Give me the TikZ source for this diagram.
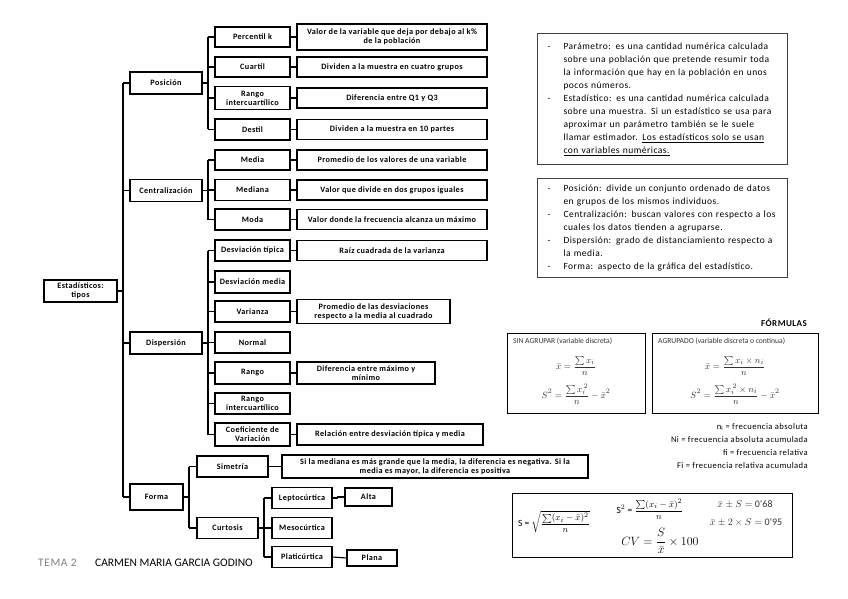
\documentclass[tikz,border=0pt]{standalone}
\usepackage{fontspec}
\usepackage{amsmath}
\setmainfont{Carlito}
\newfontfamily\treefont[LetterSpace=5]{Carlito}
\newfontfamily\boxfont[LetterSpace=5]{Carlito}
\begin{document}
\begin{tikzpicture}[x=1pt,y=-1pt,
  ln/.style={line width=1.1pt},
  tb/.style={draw,line width=1.1pt,font=\treefont\bfseries\fontsize{8.2}{9}\selectfont,
    align=center,inner sep=1pt,minimum width=75pt,minimum height=21pt},
  db/.style={tb,minimum width=190pt},
  rb/.style={draw=black!75,line width=1pt,anchor=north west,inner xsep=10pt,inner ysep=4pt,
    font=\boxfont\fontsize{9.5}{13}\selectfont,text width=230pt,align=left},
  fb/.style={draw,line width=0.9pt,anchor=north west},
  ft/.style={font=\fontsize{9.5}{10}\selectfont,text=black!80,inner sep=1pt},
  fh/.style={font=\fontsize{7.6}{8.5}\selectfont,text=black!80,inner sep=1pt,anchor=west},
  lg/.style={anchor=east,font=\boxfont\fontsize{8.6}{10}\selectfont,inner sep=0pt}
]
\useasboundingbox (0,0) rectangle (848,599);
\fill[white] (0,0) rectangle (848,599);

% root and level 1
\node[tb,minimum width=73pt,minimum height=22pt] (root) at (80.5,291) {Estadísticos:\\tipos};
\node[tb,minimum width=72pt,minimum height=22pt] (pos) at (166,83) {Posición};
\node[tb,minimum width=72pt,minimum height=22pt] (cen) at (166,190.5) {Centralización};
\node[tb,minimum width=72pt,minimum height=22pt] (dis) at (166,343) {Dispersión};
\node[tb,minimum width=53pt,minimum height=26pt] (for) at (156.5,497) {Forma};

% level 2
\node[tb,minimum height=20pt] (perc) at (252.5,37) {Percentil k};
\node[tb,minimum height=20pt] (cuar) at (252.5,67) {Cuartil};
\node[tb,minimum height=23pt] (rint1) at (252.5,98) {Rango\\intercuartílico};
\node[tb] (dest) at (252.5,129.5) {Destil};
\node[tb,minimum height=20pt] (media) at (252.5,160) {Media};
\node[tb] (mediana) at (252.5,190) {Mediana};
\node[tb] (moda) at (252.5,219.5) {Moda};
\node[tb] (dtip) at (252.5,250.5) {Desviación típica};
\node[tb,minimum height=22pt] (dmed) at (252.5,282) {Desviación media};
\node[tb] (var) at (252.5,311.5) {Varianza};
\node[tb] (normal) at (252.5,342.5) {Normal};
\node[tb,minimum height=22pt] (rango) at (252.5,373) {Rango};
\node[tb] (rint2) at (252.5,403.5) {Rango\\intercuartílico};
\node[tb,minimum height=23pt] (cv) at (252.5,434.5) {Coeficiente de\\Variación};

% descriptions
\node[db,minimum height=26pt] (d1) at (392,37) {Valor de la variable que deja por debajo al k\%\\de la población};
\node[db,minimum height=20pt] (d2) at (392,67) {Dividen a la muestra en cuatro grupos};
\node[db,minimum height=20pt] (d3) at (392,98) {Diferencia entre Q1 y Q3};
\node[db,minimum height=20pt] (d4) at (392,129.5) {Dividen a la muestra en 10 partes};
\node[db,minimum height=20pt] (d5) at (392,160) {Promedio de los valores de una variable};
\node[db,minimum height=20pt] (d6) at (392,190) {Valor que divide en dos grupos iguales};
\node[db,minimum height=20pt] (d7) at (392,219.5) {Valor donde la frecuencia alcanza un máximo};
\node[db,minimum height=20pt] (d8) at (392,250.5) {Raíz cuadrada de la varianza};
\node[db,minimum width=153pt,minimum height=24pt] (dvar) at (373.5,311.5) {Promedio de las desviaciones\\respecto a la media al cuadrado};
\node[db,minimum width=138pt,minimum height=22pt] (drango) at (366,373) {Diferencia entre máximo y\\mínimo};
\node[db,minimum width=186pt,minimum height=21pt] (dcv) at (390,434.5) {Relación entre desviación típica y media};

% forma
\node[tb,minimum width=71pt] (sim) at (232.5,466.5) {Simetría};
\node[db,minimum width=306pt,minimum height=23pt] (dsim) at (435,466.5) {Si la mediana es más grande que la media, la diferencia es negativa. Si la\\media es mayor, la diferencia es positiva};
\node[tb,minimum width=61pt] (curt) at (227.5,528) {Curtosis};
\node[tb,minimum width=60pt] (lep) at (302,498) {Leptocúrtica};
\node[tb,minimum width=60pt] (meso) at (302,528) {Mesocúrtica};
\node[tb,minimum width=60pt] (plat) at (302,557) {Platicúrtica};
\node[tb,minimum width=47pt,minimum height=18pt] (alta) at (368.5,497) {Alta};
\node[tb,minimum width=50pt,minimum height=16pt] (plana) at (372,558) {Plana};

% connectors
\coordinate (tk) at (123,0);
\coordinate (b2) at (208,0);
\coordinate (b3) at (189,0);
\coordinate (b4) at (264,0);
\draw[ln] (root.east) -- (root.east -| tk);
\draw[ln] (pos.west -| tk) -- (for.west -| tk);
\foreach \n in {pos,cen,dis,for} \draw[ln] (\n.west -| tk) -- (\n.west);

\draw[ln] (pos.east) -- (pos.east -| b2);
\draw[ln] (perc.west -| b2) -- (dest.west -| b2);
\foreach \n in {perc,cuar,rint1,dest} \draw[ln] (\n.west -| b2) -- (\n.west);
\draw[ln] (cen.east) -- (cen.east -| b2);
\draw[ln] (media.west -| b2) -- (moda.west -| b2);
\foreach \n in {media,mediana,moda} \draw[ln] (\n.west -| b2) -- (\n.west);
\draw[ln] (dis.east) -- (dis.east -| b2);
\draw[ln] (dtip.west -| b2) -- (cv.west -| b2);
\foreach \n in {dtip,dmed,var,normal,rango,rint2,cv} \draw[ln] (\n.west -| b2) -- (\n.west);

\draw[ln] (perc.east) -- (d1.west);
\draw[ln] (cuar.east) -- (d2.west);
\draw[ln] (rint1.east) -- (d3.west);
\draw[ln] (dest.east) -- (d4.west);
\draw[ln] (media.east) -- (d5.west);
\draw[ln] (mediana.east) -- (d6.west);
\draw[ln] (moda.east) -- (d7.west);
\draw[ln] (dtip.east) -- (d8.west);
\draw[ln] (var.east) -- (dvar.west);
\draw[ln] (rango.east) -- (drango.west);
\draw[ln] (cv.east) -- (dcv.west);

\draw[ln] (for.east) -- (for.east -| b3);
\draw[ln] (sim.west -| b3) -- (curt.west -| b3);
\foreach \n in {sim,curt} \draw[ln] (\n.west -| b3) -- (\n.west);
\draw[ln] (sim.east) -- (dsim.west);
\draw[ln] (curt.east) -- (curt.east -| b4);
\draw[ln] (lep.west -| b4) -- (plat.west -| b4);
\foreach \n in {lep,meso,plat} \draw[ln] (\n.west -| b4) -- (\n.west);
\draw[ln] (lep.east) -- ++(5,0) |- (alta.west);
\draw[ln] (plat.east) -- (plana.west);

% right text boxes
\node[rb,minimum height=131pt] (t1) at (537,33) {\begin{tabular}{@{}p{16pt}@{}l@{}}
-&Parámetro: es una cantidad numérica calculada\\
&sobre una población que pretende resumir toda\\
&la información que hay en la población en unos\\
&pocos números.\\
-&Estadístico: es una cantidad numérica calculada\\
&sobre una muestra. Si un estadístico se usa para\\
&aproximar un parámetro también se le suele\\
&llamar estimador. \underline{Los estadísticos solo se usan}\\
&\underline{con variables numéricas.}
\end{tabular}};
\node[rb,minimum height=98pt] (t2) at (537,178) {\begin{tabular}{@{}p{16pt}@{}l@{}}
-&Posición: divide un conjunto ordenado de datos\\
&en grupos de los mismos individuos.\\
-&Centralización: buscan valores con respecto a los\\
&cuales los datos tienden a agruparse.\\
-&Dispersión: grado de distanciamiento respecto a\\
&la media.\\
-&Forma: aspecto de la gráfica del estadístico.
\end{tabular}};

% formulas
\node[font=\boxfont\bfseries\fontsize{9}{10}\selectfont,inner sep=0pt] (ftitle) at (784,323) {FÓRMULAS};
\node[fb,minimum width=138pt,minimum height=80pt] (f1) at (507,333) {};
\node[fh] (f1t) at (512,341) {SIN AGRUPAR (variable discreta)};
\node[ft] (f1a) at (576,366) {$\displaystyle \bar{x} = \frac{\sum x_i}{n}$};
\node[ft] (f1b) at (576,394) {$\displaystyle S^2 = \frac{\sum x_i^{\,2}}{n} - \bar{x}^2$};
\node[fb,minimum width=166pt,minimum height=80pt] (f2) at (652,333) {};
\node[fh] (f2t) at (657,341) {AGRUPADO (variable discreta o continua)};
\node[ft] (f2a) at (735,366) {$\displaystyle \bar{x} = \frac{\sum x_i \times n_i}{n}$};
\node[ft] (f2b) at (735,394) {$\displaystyle S^2 = \frac{\sum x_i^{\,2} \times n_i}{n} - \bar{x}^2$};

\node[lg] (l1) at (808,427) {n$_\mathrm{i}$ = frecuencia absoluta};
\node[lg] (l2) at (808,440) {Ni = frecuencia absoluta acumulada};
\node[lg] (l3) at (808,453) {fi = frecuencia relativa};
\node[lg] (l4) at (808,466) {Fi = frecuencia relativa acumulada};

\node[fb,line width=1.4pt,minimum width=280pt,minimum height=64pt] (f3) at (512,493) {};
\node[font=\fontsize{9.5}{10}\selectfont,inner sep=0pt] (s1) at (554,522) {S = $\sqrt{\dfrac{\sum(x_i-\bar{x})^2}{n}}$};
\node[font=\fontsize{9.5}{10}\selectfont,inner sep=0pt] (s2) at (650,509) {S$^2$ = $\dfrac{\sum(x_i-\bar{x})^2}{n}$};
\node[font=\fontsize{11.5}{12}\selectfont,inner sep=0pt] (s3) at (660,541) {$CV = \dfrac{S}{\bar{x}} \times 100$};
\node[font=\fontsize{10}{10}\selectfont,inner sep=0pt,text=black!80] (s4) at (745,504) {$\bar{x} \pm S =$ 0'68};
\node[font=\fontsize{10}{10}\selectfont,inner sep=0pt,text=black!80] (s5) at (746,522) {$\bar{x} \pm 2\times S =$ 0'95};

% footer
\node[anchor=west,font=\boxfont\fontsize{11.5}{12}\selectfont,text=black!50,inner sep=0pt] (tema) at (38,563) {TEMA 2};
\node[anchor=west,font=\fontsize{11.5}{12}\selectfont,inner sep=0pt] (autor) at (95,563) {CARMEN MARIA GARCIA GODINO};
\end{tikzpicture}
\end{document}
